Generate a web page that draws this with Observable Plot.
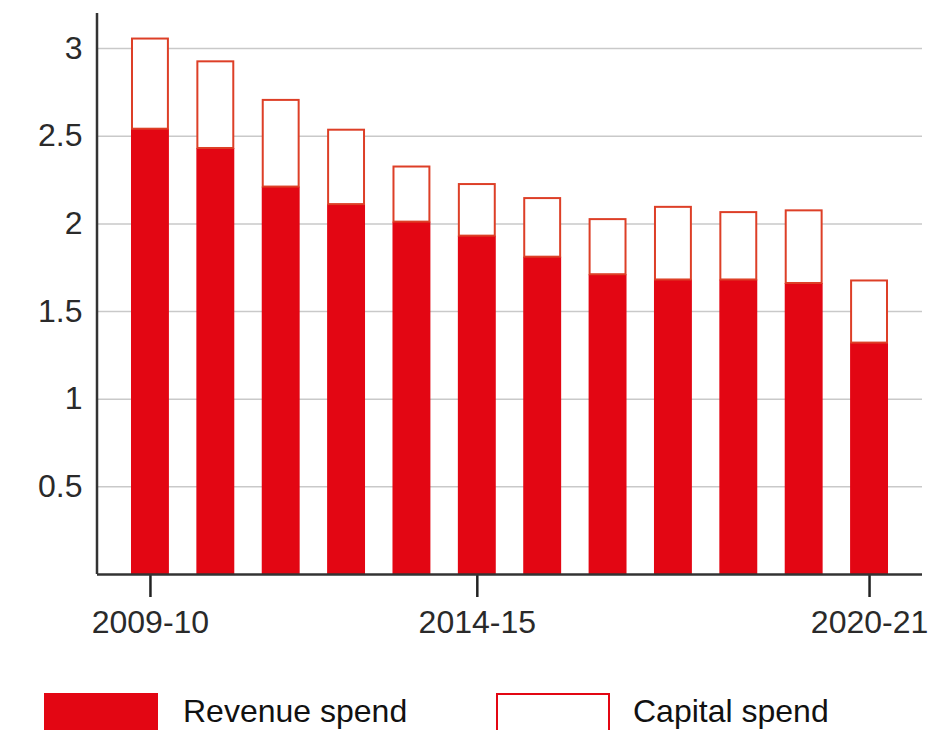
<!DOCTYPE html>
<html>
<head>
<meta charset="utf-8">
<script src="https://cdn.jsdelivr.net/npm/d3@7"></script>
<script src="https://cdn.jsdelivr.net/npm/@observablehq/plot@0.6"></script>
<style>
  html, body { margin: 0; padding: 0; background: #fff; }
  body { width: 951px; height: 730px; overflow: hidden; font-family: "Liberation Sans", Arial, Helvetica, sans-serif; }
  #chart svg { display: block; }
  #legend { position: relative; height: 37px; }
  .sw { position: absolute; top: 0; width: 114px; height: 45px; box-sizing: border-box; }
  .lab { position: absolute; top: -2px; font-size: 32px; color: #111; line-height: 40px; white-space: nowrap; }
</style>
</head>
<body>
<div id="chart"></div>
<div id="legend">
  <div class="sw" style="left:44px;background:#e30613;"></div>
  <div class="lab" style="left:183px;">Revenue spend</div>
  <div class="sw" style="left:496px;border:2px solid #e30613;background:#fff;"></div>
  <div class="lab" style="left:633px;">Capital spend</div>
</div>
<script>
const years = ["2009-10","2010-11","2011-12","2012-13","2013-14","2014-15","2015-16","2016-17","2017-18","2018-19","2019-20","2020-21"];
const revenue = [2.54, 2.43, 2.21, 2.11, 2.01, 1.93, 1.81, 1.71, 1.68, 1.68, 1.66, 1.32];
const capital = [0.52, 0.50, 0.50, 0.43, 0.32, 0.30, 0.34, 0.32, 0.42, 0.39, 0.42, 0.36];
const yTicks = [0.5, 1, 1.5, 2, 2.5, 3];
const xTicks = ["2009-10", "2014-15", "2020-21"];

const rows = years.map((year, i) => ({year, revenue: revenue[i], capital: capital[i]}));

const leftAxisLine = (index, scales, values, dimensions) => {
  const {marginLeft, marginTop, height, marginBottom} = dimensions;
  const g = d3.create("svg:line")
    .attr("x1", marginLeft).attr("x2", marginLeft)
    .attr("y1", marginTop).attr("y2", height - marginBottom)
    .attr("stroke", "#333").attr("stroke-width", 2.5);
  return g.node();
};

const chart = Plot.plot({
  width: 951,
  height: 693,
  marginTop: 13,
  marginBottom: 119,
  marginLeft: 97,
  marginRight: 29,
  style: {fontFamily: "'Liberation Sans', Arial, Helvetica, sans-serif", fontSize: "32px", color: "#2a2a2a", background: "#fff"},
  x: {type: "band", domain: years, paddingInner: 0.42, paddingOuter: 0.52, round: false},
  y: {domain: [0, 3.2]},
  marks: [
    Plot.gridY(yTicks, {stroke: "#c9c9c9", strokeOpacity: 1, strokeWidth: 1.5}),
    Plot.rectY(rows, {x: "year", y1: 0, y2: "revenue", fill: "#e30613"}),
    Plot.rectY(rows, {x: "year", y1: "revenue", y2: d => d.revenue + d.capital, fill: "#fff", stroke: "#dd3f27", strokeWidth: 2, insetLeft: 1, insetRight: 1, insetTop: 1}),
    Plot.axisY({ticks: yTicks, tickSize: 0, tickPadding: 15, tickFormat: d => String(d), label: null, fill: "#2a2a2a"}),
    Plot.axisX({ticks: xTicks, tickSize: 23, tickPadding: 13, label: null, stroke: "#222", strokeWidth: 2.5, fill: "#2a2a2a"}),
    Plot.ruleY([0], {stroke: "#333", strokeWidth: 2.5}),
    leftAxisLine
  ]
});
document.getElementById("chart").appendChild(chart);
</script>
</body>
</html>
